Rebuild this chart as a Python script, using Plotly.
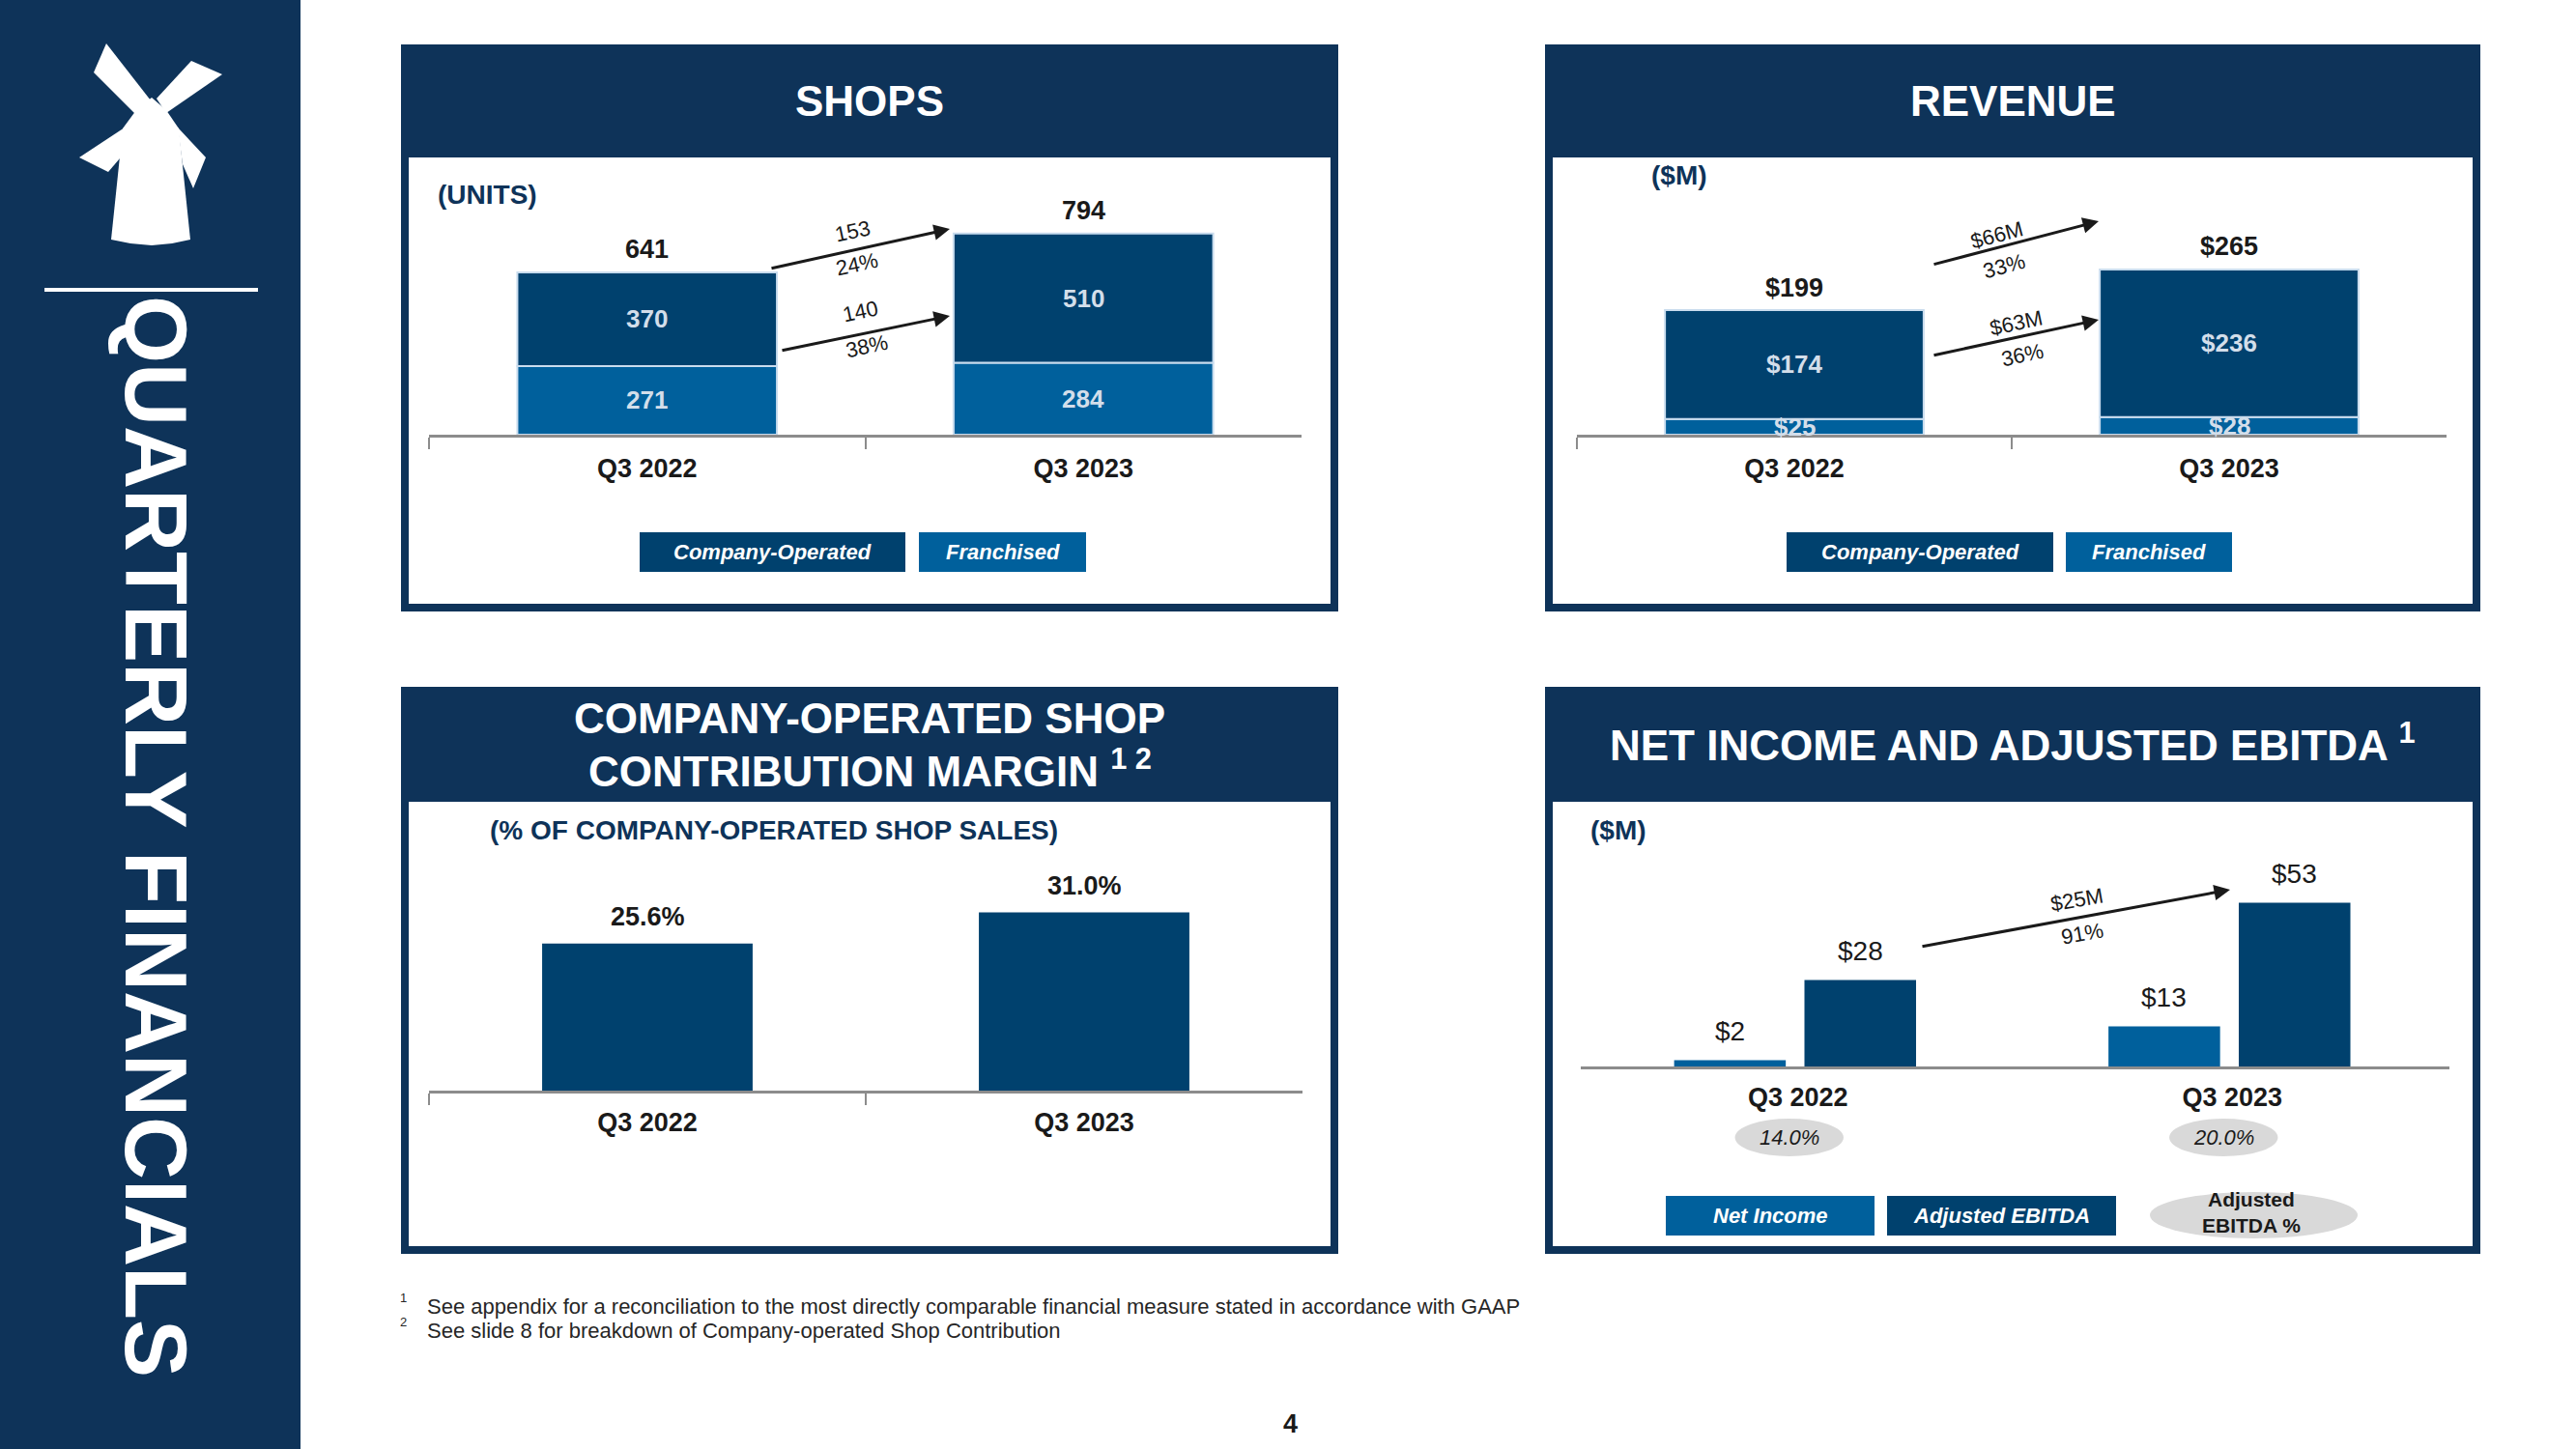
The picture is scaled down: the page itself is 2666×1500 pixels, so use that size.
import plotly.graph_objects as go

W, H = 2666, 1500

# ---------------- data ----------------
categories = ["Q3 2022", "Q3 2023"]

shops_company = [370, 510]
shops_franchised = [271, 284]
shops_total = [641, 794]
shops_growth_total = ["153", "24%"]
shops_growth_company = ["140", "38%"]

revenue_company = [174, 236]
revenue_franchised = [25, 28]
revenue_total = [199, 265]
revenue_growth_total = ["$66M", "33%"]
revenue_growth_company = ["$63M", "36%"]

margin_pct = [25.6, 31.0]

net_income = [2, 13]
adj_ebitda = [28, 53]
adj_ebitda_pct = [14.0, 20.0]
ebitda_growth = ["$25M", "91%"]

footnotes = [
    ("1", "See appendix for a reconciliation to the most directly comparable financial measure stated in accordance with GAAP"),
    ("2", "See slide 8 for breakdown of Company-operated Shop Contribution"),
]

# ---------------- style ----------------
FONT = "Liberation Sans, Arial, sans-serif"
NAVY = "#0e3359"
DARK = "#00416e"
MID = "#00609c"
EDGE = "#c9dcee"
INBAR = "#d3deea"
AXIS = "#8c8c8c"
TXT = "#1a1a1a"
ELL = "#d9d9d9"


def px(x):
    return x / W


def py(y):
    return 1 - y / H


shapes = []
annotations = []


def rect(x0, y0, x1, y1, color, layer="below"):
    shapes.append(dict(type="rect", xref="paper", yref="paper",
                       x0=px(x0), x1=px(x1), y0=py(y1), y1=py(y0),
                       fillcolor=color, line=dict(width=0), layer=layer))


def ellipse(x0, y0, x1, y1, color, xref="paper"):
    if xref == "paper":
        xx0, xx1 = px(x0), px(x1)
    else:
        xx0, xx1 = x0, x1
    shapes.append(dict(type="circle", xref=xref, yref="paper",
                       x0=xx0, x1=xx1, y0=py(y1), y1=py(y0),
                       fillcolor=color, line=dict(width=0), layer="above"))


def poly(points):
    return "M " + " L ".join(f"{px(x):.5f},{py(y):.5f}" for x, y in points) + " Z"


def text(x, y, t, size, color=TXT, bold=False, italic=False, xanchor="center",
         angle=0, xref="paper", yref="paper", yshift=0, xshift=0):
    if bold:
        t = f"<b>{t}</b>"
    if italic:
        t = f"<i>{t}</i>"
    annotations.append(dict(
        x=px(x) if xref == "paper" else x,
        y=py(y) if yref == "paper" else y,
        xref=xref, yref=yref, text=t, showarrow=False,
        xanchor=xanchor, yanchor="middle", textangle=angle,
        yshift=yshift, xshift=xshift,
        font=dict(family=FONT, size=size, color=color)))


def arrow(tail, head):
    annotations.append(dict(
        x=px(head[0]), y=py(head[1]), xref="paper", yref="paper",
        ax=tail[0] - head[0], ay=tail[1] - head[1], axref="pixel", ayref="pixel",
        text="", showarrow=True, arrowhead=2, arrowsize=1.1, arrowwidth=3,
        arrowcolor=TXT, standoff=0, startstandoff=0))


# ---------------- background / frame ----------------
rect(0, 0, 311, H, NAVY)
panels = [(415, 46, 1385, 633, 163), (1599, 46, 2567, 633, 163),
          (415, 711, 1385, 1298, 830), (1599, 711, 2567, 1298, 830)]
for (x0, y0, x1, y1, hb) in panels:
    rect(x0, y0, x1, y1, NAVY)
    rect(x0 + 8, hb, x1 - 8, y1 - 8, "white")

# windmill logo
logo_parts = [
    [(127, 133), (115, 248), (135, 252), (157, 254), (178, 252), (197, 248),
     (185, 133), (172, 114), (157, 101), (141, 114)],
    [(110, 45), (97, 75), (140, 118), (156, 104)],
    [(198, 63), (230, 77), (172, 117), (162, 102)],
    [(82, 163), (112, 178), (136, 150), (129, 132)],
    [(184, 132), (213, 163), (200, 195), (189, 170)],
]
for part in logo_parts:
    shapes.append(dict(type="path", xref="paper", yref="paper", path=poly(part),
                       fillcolor="white", line=dict(width=0), layer="above"))
rect(46, 298, 267, 302, "white", layer="above")
text(161, 866, "QUARTERLY FINANCIALS", 90, color="white", bold=True, angle=90)

# ---------------- titles ----------------
text(900, 104, "SHOPS", 44, color="white", bold=True)
text(2083, 104, "REVENUE", 44, color="white", bold=True)
text(900, 743, "COMPANY-OPERATED SHOP", 44, color="white", bold=True)
text(900, 796, "CONTRIBUTION MARGIN <sup>1 2</sup>", 44, color="white", bold=True)
text(2083, 768, "NET INCOME AND ADJUSTED EBITDA <sup>1</sup>", 44, color="white", bold=True)

text(451, 201, "(UNITS)", 28, color=NAVY, bold=True, xanchor="left")
text(1707, 182, "($M)", 28, color=NAVY, bold=True, xanchor="left")
text(505, 859, "(% OF COMPANY-OPERATED SHOP SALES)", 28, color=NAVY, bold=True, xanchor="left")
text(1644, 859, "($M)", 28, color=NAVY, bold=True, xanchor="left")

# ---------------- traces ----------------
fig = go.Figure()
edge = dict(color=EDGE, width=2)
fig.add_trace(go.Bar(x=categories, y=shops_franchised, width=0.595,
                     marker=dict(color=MID, line=edge), xaxis="x", yaxis="y", hoverinfo="skip"))
fig.add_trace(go.Bar(x=categories, y=shops_company, base=shops_franchised, width=0.595,
                     marker=dict(color=DARK, line=edge), xaxis="x", yaxis="y", hoverinfo="skip"))
fig.add_trace(go.Bar(x=categories, y=revenue_franchised, width=0.595,
                     marker=dict(color=MID, line=edge), xaxis="x2", yaxis="y2", hoverinfo="skip"))
fig.add_trace(go.Bar(x=categories, y=revenue_company, base=revenue_franchised, width=0.595,
                     marker=dict(color=DARK, line=edge), xaxis="x2", yaxis="y2", hoverinfo="skip"))
fig.add_trace(go.Bar(x=categories, y=margin_pct, width=0.482,
                     marker=dict(color=DARK, line=dict(width=0)), xaxis="x3", yaxis="y3", hoverinfo="skip"))
fig.add_trace(go.Bar(x=categories, y=net_income, width=0.257, offset=-0.285,
                     marker=dict(color=MID, line=dict(width=0)), xaxis="x4", yaxis="y4", hoverinfo="skip"))
fig.add_trace(go.Bar(x=categories, y=adj_ebitda, width=0.257, offset=0.015,
                     marker=dict(color=DARK, line=dict(width=0)), xaxis="x4", yaxis="y4", hoverinfo="skip"))

# ---------------- value labels ----------------
for i, c in enumerate(categories):
    # shops
    text(c, shops_total[i], str(shops_total[i]), 27, bold=True, xref="x", yref="y", yshift=24)
    text(c, shops_franchised[i] / 2, str(shops_franchised[i]), 26, color=INBAR, bold=True, xref="x", yref="y")
    text(c, shops_franchised[i] + shops_company[i] / 2, str(shops_company[i]), 26, color=INBAR, bold=True,
         xref="x", yref="y")
    # revenue
    text(c, revenue_total[i], f"${revenue_total[i]}", 27, bold=True, xref="x2", yref="y2", yshift=23)
    text(c, revenue_franchised[i] / 2, f"${revenue_franchised[i]}", 26, color=INBAR, bold=True,
         xref="x2", yref="y2")
    text(c, revenue_franchised[i] + revenue_company[i] / 2, f"${revenue_company[i]}", 26, color=INBAR,
         bold=True, xref="x2", yref="y2")
    # margin
    text(c, margin_pct[i], f"{margin_pct[i]:.1f}%", 27, bold=True, xref="x3", yref="y3", yshift=28)
    # net income / ebitda
    text(i - 0.285 + 0.1285, net_income[i], f"${net_income[i]}", 28, xref="x4", yref="y4", yshift=30)
    text(i + 0.015 + 0.1285, adj_ebitda[i], f"${adj_ebitda[i]}", 28, xref="x4", yref="y4", yshift=30)
    # adjusted EBITDA % ovals
    ellipse(i - 0.145, 1158, i + 0.105, 1197, ELL, xref="x4")
    text(i - 0.02, 1177, f"{adj_ebitda_pct[i]:.1f}%", 22, italic=True, xref="x4", yref="paper")

# ---------------- growth arrows ----------------
arrow((797, 278), (983, 237))
arrow((808, 363), (983, 327))
text(882, 239, shops_growth_total[0], 22, angle=-12)
text(887, 274, shops_growth_total[1], 22, angle=-12)
text(890, 322, shops_growth_company[0], 22, angle=-12)
text(897, 358, shops_growth_company[1], 22, angle=-12)

arrow((2000, 274), (2172, 229))
arrow((2000, 368), (2172, 331))
text(2066, 243, revenue_growth_total[0], 22, angle=-15)
text(2074, 275, revenue_growth_total[1], 22, angle=-15)
text(2086, 334, revenue_growth_company[0], 22, angle=-12)
text(2093, 367, revenue_growth_company[1], 22, angle=-12)

arrow((1988, 980), (2308, 921))
text(2149, 932, ebitda_growth[0], 22, angle=-10)
text(2155, 966, ebitda_growth[1], 22, angle=-10)


# ---------------- legends ----------------
def legend_box(x0, y0, x1, y1, color, label):
    rect(x0, y0, x1, y1, color, layer="above")
    text((x0 + x1) / 2, (y0 + y1) / 2, label, 22, color="white", bold=True, italic=True)


legend_box(662, 551, 937, 592, DARK, "Company-Operated")
legend_box(951, 551, 1124, 592, MID, "Franchised")
legend_box(1849, 551, 2125, 592, DARK, "Company-Operated")
legend_box(2138, 551, 2310, 592, MID, "Franchised")
legend_box(1724, 1238, 1940, 1279, MID, "Net Income")
legend_box(1953, 1238, 2190, 1279, DARK, "Adjusted EBITDA")
ellipse(2225, 1234, 2440, 1282, ELL)
text(2330, 1255, "Adjusted<br>EBITDA %", 21, bold=True)

# ---------------- footnotes ----------------
for k, (num, note) in enumerate(footnotes):
    text(417, 1343 + 25 * k, num, 13, color="#262626", xanchor="center")
    text(440, 1352 + 25 * k, note, 22, color="#262626", xanchor="left")
text(1335, 1474, "4", 27, bold=True)


# ---------------- axes ----------------
def xaxis(x0, x1, anchor, ticks=True, standoff=4):
    d = dict(domain=[px(x0), px(x1)], anchor=anchor, type="category",
             categoryorder="array", categoryarray=categories,
             range=[-0.5, 1.5], showgrid=False, zeroline=False, fixedrange=True,
             showline=True, linecolor=AXIS, linewidth=2.5,
             tickfont=dict(family=FONT, size=27, color=TXT, weight="bold"),
             ticklabelstandoff=standoff)
    if ticks:
        d.update(ticks="outside", tickson="boundaries", ticklen=12, tickwidth=2, tickcolor=AXIS)
    else:
        d.update(ticks="")
    return d


def yaxis(ytop, ybase, rng, anchor):
    return dict(domain=[py(ybase), py(ytop)], range=rng, anchor=anchor, visible=False,
                showgrid=False, zeroline=False, fixedrange=True)


fig.update_layout(
    width=W, height=H, margin=dict(l=0, r=0, t=0, b=0),
    paper_bgcolor="white", plot_bgcolor="rgba(0,0,0,0)",
    barmode="overlay", showlegend=False, hovermode=False,
    font=dict(family=FONT, color=TXT),
    xaxis=xaxis(444, 1347, "y", standoff=9),
    yaxis=yaxis(180, 450, [0, 1030], "x"),
    xaxis2=xaxis(1632, 2532, "y2", standoff=9),
    yaxis2=yaxis(180, 450, [0, 416.7], "x2"),
    xaxis3=xaxis(444, 1348, "y3", standoff=7),
    yaxis3=yaxis(880, 1129, [0, 41.85], "x3"),
    xaxis4=xaxis(1636, 2535, "y4", ticks=False, standoff=6),
    yaxis4=yaxis(880, 1104, [0, 70], "x4"),
    shapes=shapes, annotations=annotations,
)

fig.write_html("out.html", config={"displayModeBar": False},
               post_script="document.body.style.margin='0';document.body.style.padding='0';")
